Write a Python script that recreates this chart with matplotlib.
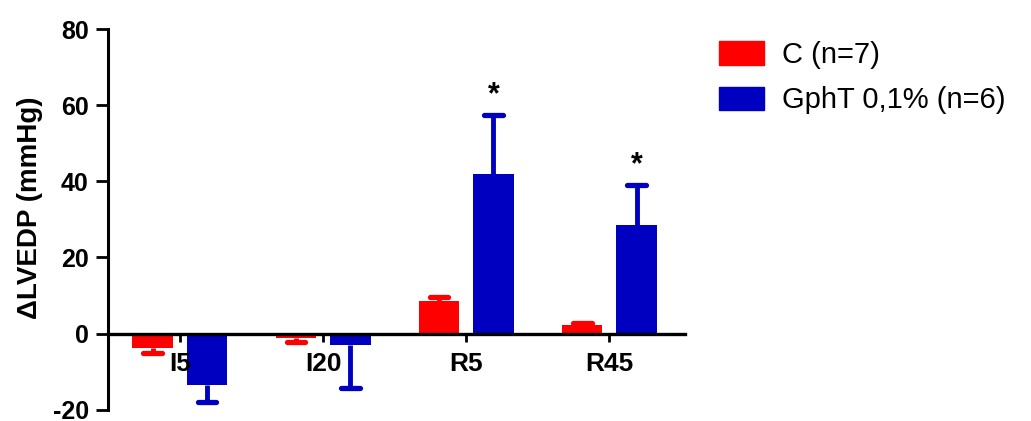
import numpy as np
import matplotlib.pyplot as plt

plt.rcParams['font.family'] = ['Liberation Sans', 'DejaVu Sans']
plt.rcParams['axes.unicode_minus'] = False

categories = ['I5', 'I20', 'R5', 'R45']
control_mean = [-3.9, -1.3, 8.5, 2.2]
control_err = [1.3, 0.9, 1.1, 0.5]
gpht_mean = [-13.4, -2.9, 42.0, 28.5]
gpht_err = [4.6, 11.3, 15.5, 10.6]
significant = [False, False, True, True]

RED = '#FF0000'
BLUE = '#0000C0'
width = 0.283
offset = 0.19

fig = plt.figure(figsize=(10.31, 4.21), dpi=100)
ax = fig.add_axes([0.105, 0.027, 0.559, 0.904])

# spine position first: moving it resets the ticks
ax.spines['top'].set_visible(False)
ax.spines['right'].set_visible(False)
ax.spines['bottom'].set_position(('data', 0))
ax.spines['bottom'].set_linewidth(2.4)
ax.spines['left'].set_linewidth(2.2)

x = np.arange(len(categories))


def draw_group(xpos, means, errs, color):
    ax.bar(xpos, means, width, color=color, zorder=1)
    means = np.array(means)
    errs = np.array(errs)
    ends = means + np.sign(means) * errs
    ax.vlines(xpos, means, ends, color=color, linewidth=3.5, zorder=0.9)
    ax.hlines(ends, xpos - 0.065, xpos + 0.065, color=color, linewidth=3.8,
              capstyle='round', zorder=0.9)


draw_group(x - offset, control_mean, control_err, RED)
draw_group(x + offset, gpht_mean, gpht_err, BLUE)

for i, sig in enumerate(significant):
    if sig:
        ax.text(x[i] + offset, gpht_mean[i] + gpht_err[i] + 5.0, '*',
                ha='center', va='center', fontsize=22, fontweight='bold')

ax.set_xlim(-0.5, 3.525)
ax.set_ylim(-20, 80)
ax.tick_params(axis='y', length=9, width=2, pad=5, direction='out')
ax.tick_params(axis='x', length=6, width=2, pad=7, direction='out')
ax.set_yticks([-20, 0, 20, 40, 60, 80], ['-20', '0', '20', '40', '60', '80'],
              fontsize=18, fontweight='bold')
ax.set_xticks(x, categories, fontsize=19, fontweight='bold')

ax.set_ylabel('ΔLVEDP (mmHg)', fontsize=20, fontweight='bold')
ax.yaxis.set_label_coords(-0.113, 0.531)

handles = [plt.Rectangle((0, 0), 1, 1, color=RED),
           plt.Rectangle((0, 0), 1, 1, color=BLUE)]
fig.legend(handles, ['C (n=7)', 'GphT 0,1% (n=6)'], loc='upper left',
           bbox_to_anchor=(719 / 1031, 1 - 41 / 421), frameon=False,
           fontsize=21, handlelength=1.55, handleheight=0.85,
           handletextpad=0.6, labelspacing=0.6, borderpad=0, borderaxespad=0)

fig.savefig('out.png', dpi=100)
